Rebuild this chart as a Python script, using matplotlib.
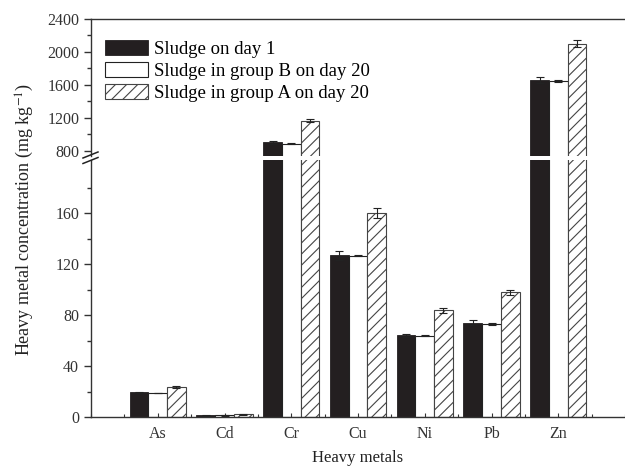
import numpy as np
import matplotlib
matplotlib.use('Agg')
import matplotlib.pyplot as plt
from matplotlib.ticker import MultipleLocator, FixedLocator
from matplotlib.lines import Line2D

plt.rcParams['font.family'] = ['Liberation Serif', 'DejaVu Serif']
plt.rcParams['hatch.linewidth'] = 0.8
plt.rcParams['mathtext.fontset'] = 'stix'

# data
metals = ['As', 'Cd', 'Cr', 'Cu', 'Ni', 'Pb', 'Zn']
day1 = [19.6, 1.6, 902, 127, 64.3, 74, 1659]
day1_err = [0.5, 0.2, 14, 3.6, 1.0, 2.0, 36]
groupB = [19.0, 1.5, 885, 126.4, 64, 73, 1648]
groupB_err = [0.3, 0.2, 6, 0.4, 0.6, 0.8, 10]
groupA = [23.5, 2.3, 1165, 160, 84, 98, 2100]
groupA_err = [0.8, 0.3, 17, 4, 2, 2, 45]
labels = ['Sludge on day 1', 'Sludge in group B on day 20', 'Sludge in group A on day 20']

W, H = 625, 468
fig = plt.figure(figsize=(6.25, 4.68), dpi=100)
left = 91 / W
ax_top = fig.add_axes([left, 1 - 155.7 / H, 1 - left, (155.7 - 19) / H])
ax_bot = fig.add_axes([left, 1 - 417.3 / H, 1 - left, (417.3 - 160) / H])

x = np.arange(1, len(metals) + 1)
bw = 0.28
dark = '#231f20'
ekw = dict(elinewidth=0.8, capthick=0.8, ecolor='#222222')

for ax in (ax_top, ax_bot):
    b1 = ax.bar(x - bw, day1, bw, yerr=day1_err, color=dark, edgecolor=dark,
                linewidth=0.6, capsize=3, error_kw=ekw, label=labels[0])
    b2 = ax.bar(x, groupB, bw, yerr=groupB_err, color='white', edgecolor='#222222',
                linewidth=0.8, capsize=3, error_kw=ekw, label=labels[1])
    b3 = ax.bar(x + bw, groupA, bw, yerr=groupA_err, color='white', edgecolor='#444444',
                hatch='///', linewidth=0.8, capsize=3, error_kw=ekw, label=labels[2])
    ax.set_xlim(0, 8)
    ax.spines['right'].set_visible(False)
    for s in ax.spines.values():
        s.set_color('#333333')
        s.set_linewidth(1.0)
    ax.tick_params(axis='y', which='major', direction='out', length=5, width=1,
                   labelsize=11.5, colors='#333333')
    ax.tick_params(axis='y', which='minor', direction='out', length=3, width=1, colors='#333333')

ax_top.set_ylim(740, 2400)
ax_top.yaxis.set_major_locator(FixedLocator([800, 1200, 1600, 2000, 2400]))
ax_top.yaxis.set_minor_locator(FixedLocator([1000, 1400, 1800, 2200]))
ax_top.spines['bottom'].set_visible(False)
ax_top.tick_params(axis='x', which='both', bottom=False, labelbottom=False)

ax_bot.set_ylim(0, 201.6)
ax_bot.yaxis.set_major_locator(FixedLocator([0, 40, 80, 120, 160]))
ax_bot.yaxis.set_minor_locator(FixedLocator([20, 60, 100, 140, 180]))
ax_bot.spines['top'].set_visible(False)
ax_bot.set_xticks(x)
ax_bot.set_xticklabels(metals)
ax_bot.xaxis.set_minor_locator(MultipleLocator(0.5))
ax_bot.tick_params(axis='x', which='major', direction='in', length=3, width=0.8,
                   labelsize=11.5, colors='#333333', pad=6)
ax_bot.tick_params(axis='x', which='minor', direction='in', length=2, width=0.8, colors='#333333')

leg = ax_top.legend(handles=[b1, b2, b3], loc='upper left', bbox_to_anchor=(0.005, 0.93),
                    frameon=False, fontsize=13.5, handlelength=2.3, handleheight=0.85,
                    handletextpad=0.3, labelspacing=0.22, borderaxespad=0.2)

# axis break marks
for yb in (155.0, 160.5):
    fig.add_artist(Line2D([83 / W, 98 / W], [1 - (yb + 3) / H, 1 - (yb - 3) / H],
                          color='#222222', lw=1.1))

fig.text(0.04, 1 - 219 / H, 'Heavy metal concentration (mg kg$^{-1}$)', rotation=90,
         ha='center', va='center', fontsize=13, color='#222222')
fig.text((91 + 625) / 2 / W, 1 - 458 / H, 'Heavy metals', ha='center', va='center',
         fontsize=12, color='#222222')

fig.savefig('out.png', dpi=100)
